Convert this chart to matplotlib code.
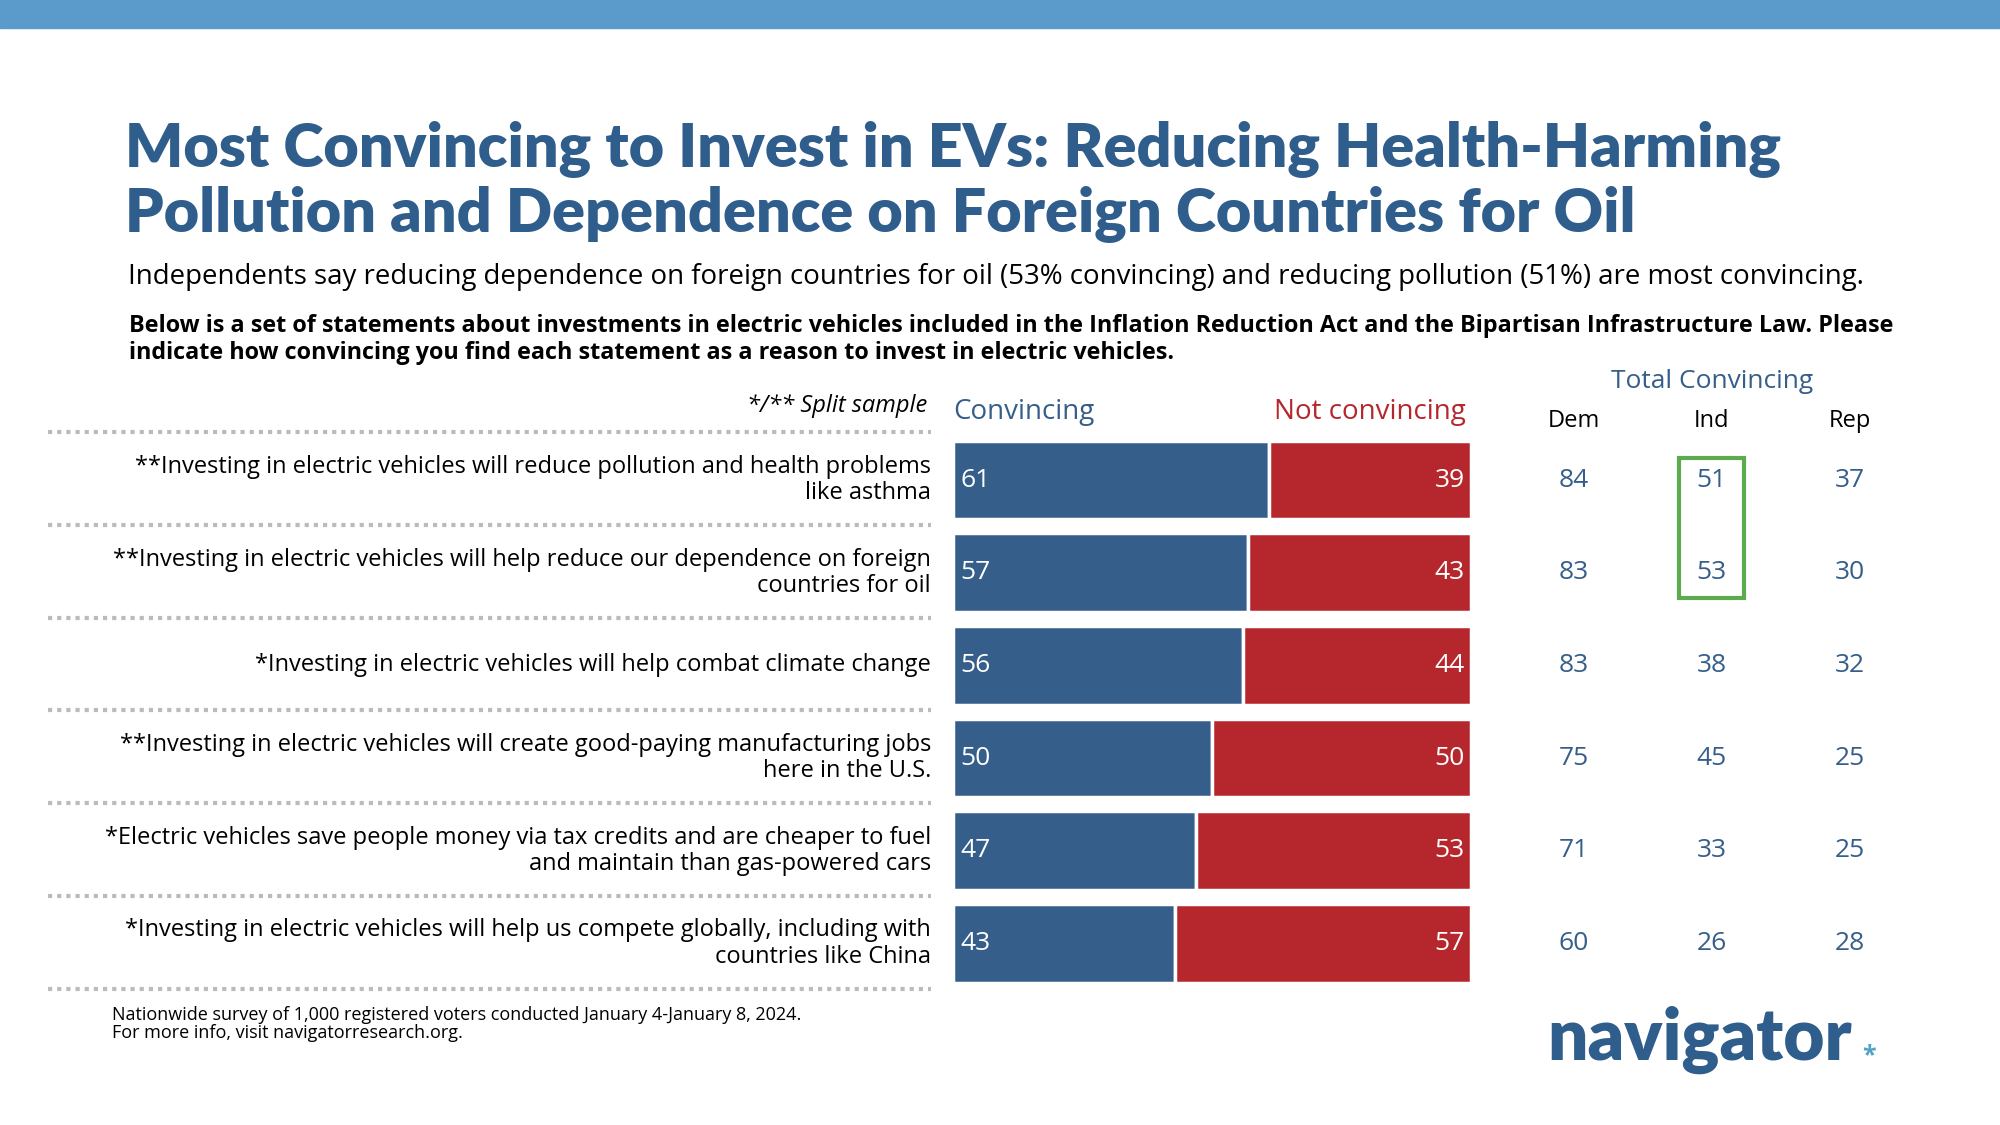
import matplotlib.pyplot as plt
from matplotlib.patches import Rectangle

plt.rcParams['font.family'] = ['Open Sans', 'DejaVu Sans']

statements = [
    "**Investing in electric vehicles will reduce pollution and health problems\nlike asthma",
    "**Investing in electric vehicles will help reduce our dependence on foreign\ncountries for oil",
    "*Investing in electric vehicles will help combat climate change",
    "**Investing in electric vehicles will create good-paying manufacturing jobs\nhere in the U.S.",
    "*Electric vehicles save people money via tax credits and are cheaper to fuel\nand maintain than gas-powered cars",
    "*Investing in electric vehicles will help us compete globally, including with\ncountries like China",
]
convincing = [61, 57, 56, 50, 47, 43]
not_convincing = [39, 43, 44, 50, 53, 57]
dem = [84, 83, 83, 75, 71, 60]
ind = [51, 53, 38, 45, 33, 26]
rep = [37, 30, 32, 25, 25, 28]

BLUE = "#355E8A"
RED = "#B5272D"
TITLE = "#2F5D8C"
W, H = 1568, 882


def fx(x):
    return x / W


def fy(y):
    return 1 - y / H


fig = plt.figure(figsize=(20, 11.25), dpi=100)
fig.patches.append(Rectangle((0, fy(22)), 1, 22 / H, transform=fig.transFigure,
                             color="#5B9BCB", zorder=0))

fig.text(fx(98), fy(142), "Most Convincing to Invest in EVs: Reducing Health-Harming\n"
         "Pollution and Dependence on Foreign Countries for Oil",
         fontsize=43.9, fontweight="heavy", color=TITLE, va="center", linespacing=1.18,
         family=["Lato", "DejaVu Sans"])
fig.text(fx(100), fy(217), "Independents say reducing dependence on foreign countries for oil "
         "(53% convincing) and reducing pollution (51%) are most convincing.",
         fontsize=19.9, color="black", va="center")
fig.text(fx(101), fy(266), "Below is a set of statements about investments in electric vehicles "
         "included in the Inflation Reduction Act and the Bipartisan Infrastructure Law. Please\n"
         "indicate how convincing you find each statement as a reason to invest in electric vehicles.",
         fontsize=16.8, fontweight="bold", color="black", va="center", linespacing=1.15)
fig.text(fx(727), fy(318), "*/** Split sample", fontsize=17, style="italic", ha="right", va="center")
fig.text(fx(747), fy(323), "Convincing", fontsize=20, color=BLUE, va="center")
fig.text(fx(1149), fy(323), "Not convincing", fontsize=20, color=RED, ha="right", va="center")

# bars
top, bottom = 340, 776
ax = fig.add_axes([fx(747), fy(bottom), (1153 - 747) / W, (bottom - top) / H])
ax.set_xlim(0, 100)
ax.set_ylim(len(statements), 0)
ax.axis("off")
ys = [i + 0.5 for i in range(len(statements))]
ax.barh(ys, convincing, height=0.85, color=BLUE, edgecolor="white", linewidth=2.5)
ax.barh(ys, not_convincing, left=convincing, height=0.85, color=RED,
        edgecolor="white", linewidth=2.5)
for y, c, n in zip(ys, convincing, not_convincing):
    ax.text(1.5, y, str(c), color="white", fontsize=19, va="center")
    ax.text(98.8, y, str(n), color="white", fontsize=19, va="center", ha="right")

# labels and separators
row_h = (bottom - top) / len(statements)
for i, s in enumerate(statements):
    yc = top + row_h * (i + 0.5)
    fig.text(fx(730), fy(yc), s, fontsize=17.0, ha="right", va="center",
             multialignment="right", linespacing=1.12)
for i in range(len(statements) + 1):
    yl = top + row_h * i - 1
    fig.add_artist(plt.Line2D([fx(38), fx(730)], [fy(yl), fy(yl)], color="#BBBBBB",
                              linestyle=(0, (1, 1.2)), linewidth=3, transform=fig.transFigure))

# party table
fig.text(fx(1342), fy(299), "Total Convincing", fontsize=19, color=BLUE, ha="center", va="center")
cols = [("Dem", dem, 1234), ("Ind", ind, 1342), ("Rep", rep, 1450)]
for name, vals, x in cols:
    fig.text(fx(x), fy(330), name, fontsize=17, ha="center", va="center")
    for i, v in enumerate(vals):
        yc = top + row_h * (i + 0.5)
        fig.text(fx(x), fy(yc), str(v), fontsize=19, color=BLUE, ha="center", va="center")
fig.patches.append(Rectangle((fx(1316), fy(469)), (1367 - 1316) / W, (469 - 359) / H,
                             transform=fig.transFigure, fill=False,
                             edgecolor="#5DAA4F", linewidth=3))

fig.text(fx(88), fy(803), "Nationwide survey of 1,000 registered voters conducted January 4-January 8, 2024.\n"
         "For more info, visit navigatorresearch.org.", fontsize=13, va="center", linespacing=1.0)
fig.text(fx(1213), fy(815), "navigator", fontsize=51, fontweight="heavy", color=TITLE, va="center",
         family=["Lato", "DejaVu Sans"])
fig.text(fx(1460), fy(828), "*", fontsize=18, fontweight="bold", color="#4FA3C7", va="center")

fig.savefig("out.png", dpi=100)
